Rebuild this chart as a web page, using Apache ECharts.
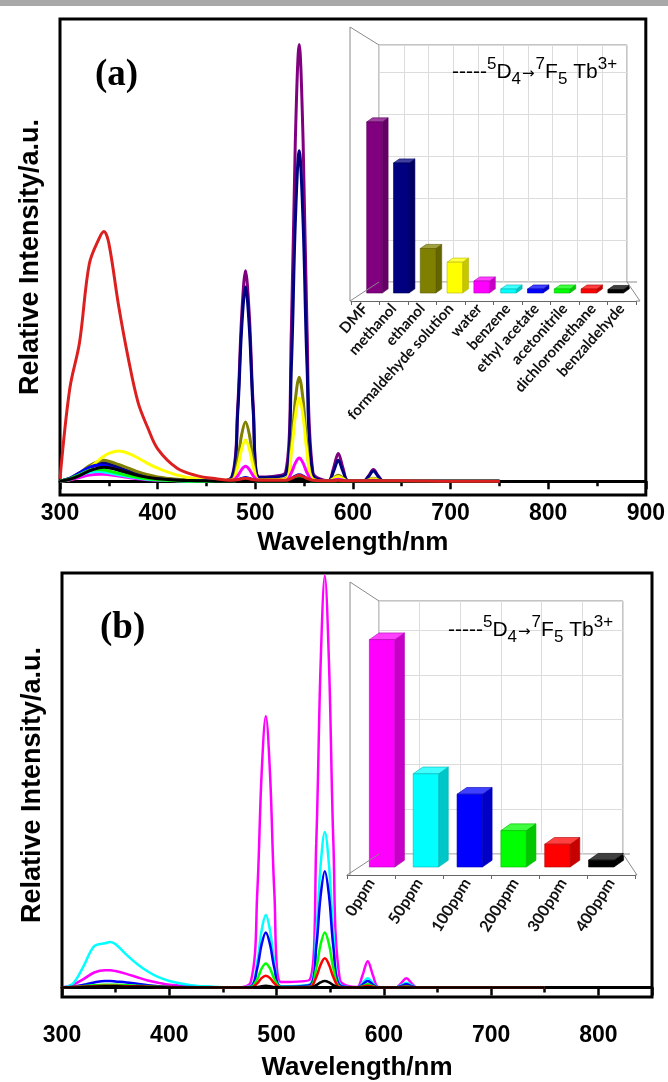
<!DOCTYPE html>
<html>
<head>
<meta charset="utf-8">
<script src="https://cdn.jsdelivr.net/npm/echarts@6/dist/echarts.min.js"></script>
<style>
html, body { margin: 0; padding: 0; background: #fff; }
#main { width: 668px; height: 1082px; }
</style>
</head>
<body>
<div id="main"></div>
<script>
// wavelength grid shared by every spectrum (nm)
var wl = [300,310,320,330,340,345,350,360,370,380,390,400,420,440,460,
          476,482,486,490,494,498,504,
          531,537,541,545,549,553,559,
          575,580,585,590,595,
          611,616,621,626,631,
          650,700,750];

// panel (a): emission spectra in different solvents
var aDMF = [0,0.5,1.5,2.8,3.6,3.6,3.3,2.6,1.9,1.3,0.9,0.6,0.3,0.1,0, 0.9,16,35.5,45.5,35.5,16,0.9, 1.9,33,73.5,94.5,73.5,33,1.9, 0.1,2.7,6,2.7,0.1, 0.05,1.1,2.5,1.1,0.05, 0,0,0];
var aMethanol = [0,0.6,1.7,3,3.8,4,3.8,3,2.2,1.5,1,0.7,0.3,0.1,0, 0.8,14.7,32.8,42,32.8,14.7,0.8, 1.4,25,55.8,71.5,55.8,25,1.4, 0.1,2,4.5,2,0.1, 0,1,2.2,1,0, 0,0,0];
var aEthanol = [0,0.6,1.8,3.3,4.3,4.5,4.3,3.6,2.8,2,1.4,0.9,0.4,0.1,0, 0.3,4.5,10,12.8,10,4.5,0.3, 0.5,7.9,17.5,22.5,17.5,7.9,0.5, 0,0.6,1.3,0.6,0, 0,0.3,0.6,0.3,0, 0,0,0];
var aFormaldehyde = [0,0.3,1.2,2.8,4.6,5.4,6,6.5,6,5,3.8,2.8,1.3,0.5,0.2, 0.2,3.1,6.9,8.9,6.9,3.1,0.2, 0.4,6.3,14,18,14,6.3,0.4, 0,0.5,1,0.5,0, 0,0.2,0.5,0.2,0, 0,0,0];
var aWater = [0,0.3,0.8,1.3,1.5,1.5,1.4,1.1,0.8,0.5,0.3,0.2,0.1,0,0, 0.1,1.1,2.5,3.2,2.5,1.1,0.1, 0.1,1.8,3.9,5,3.9,1.8,0.1, 0,0.2,0.4,0.2,0, 0,0.1,0.2,0.1,0, 0,0,0];
var aBenzene = [0,0.4,1.2,1.9,2.1,2,1.8,1.4,1,0.7,0.4,0.3,0.1,0,0, 0,0.2,0.5,0.6,0.5,0.2,0, 0,0.35,0.8,1,0.8,0.35,0, 0,0.1,0.2,0.1,0, 0,0,0.1,0,0, 0,0,0];
var aEthylAcetate = [0,0.6,1.8,3,3.5,3.4,3.1,2.4,1.7,1.1,0.7,0.5,0.2,0.1,0, 0,0.3,0.6,0.8,0.6,0.3,0, 0,0.5,1.1,1.4,1.1,0.5,0, 0,0.1,0.2,0.1,0, 0,0,0.1,0,0, 0,0,0];
var aAcetonitrile = [0,0.5,1.4,2.3,2.5,2.4,2.2,1.7,1.2,0.8,0.5,0.3,0.1,0,0, 0,0.2,0.4,0.5,0.4,0.2,0, 0,0.3,0.7,0.9,0.7,0.3,0, 0,0,0.1,0,0, 0,0,0,0,0, 0,0,0];
var aDichloromethane = [0.5,20,30,47,52.5,54,51.5,38,26.5,17,11.5,7,2.8,1.2,0.5, 0.2,0.3,0.5,0.6,0.5,0.3,0.2, 0.2,0.6,1,1.3,1,0.6,0.2, 0.1,0.1,0.2,0.1,0.1, 0.1,0.1,0.1,0.1,0.1, 0.1,0,0];
var aBenzaldehyde = [0,0.4,1.2,2.2,2.9,3,2.9,2.4,1.8,1.2,0.8,0.5,0.2,0.1,0, 0,0.1,0.2,0.3,0.2,0.1,0, 0,0.2,0.4,0.5,0.4,0.2,0, 0,0,0.1,0,0, 0,0,0,0,0, 0,0,0];

// panel (b): spectra with increasing amounts of analyte
var b0ppm = [0,0.6,1.8,3.2,3.7,3.7,3.5,2.9,2.2,1.5,1,0.6,0.3,0.1,0, 1.2,20,45,57.6,45,20,1.2, 1.7,30.6,68,87.4,68,30.6,1.7, 0.1,2.5,5.6,2.5,0.1, 0,0.9,2,0.9,0, 0,0,0];
var b50ppm = [0,0.8,4.5,8.8,9.4,9.7,9.2,7,5,3.4,2.2,1.4,0.5,0.2,0, 0.3,5.4,12,15.4,12,5.4,0.3, 0.7,11.5,25.7,33,25.7,11.5,0.7, 0,0.9,2,0.9,0, 0,0.45,1,0.45,0, 0,0,0];
var b100ppm = [0,0.2,0.6,1.1,1.4,1.4,1.3,1.1,0.8,0.5,0.3,0.2,0.1,0,0, 0.2,4.1,9.1,11.7,9.1,4.1,0.2, 0.5,8.6,19.3,24.7,19.3,8.6,0.5, 0,0.6,1.4,0.6,0, 0,0.3,0.7,0.3,0, 0,0,0];
var b200ppm = [0,0.1,0.3,0.5,0.6,0.6,0.6,0.5,0.4,0.3,0.2,0.1,0,0,0, 0.1,1.8,4,5.1,4,1.8,0.1, 0.2,4.1,9.1,11.7,9.1,4.1,0.2, 0,0.3,0.7,0.3,0, 0,0.1,0.3,0.1,0, 0,0,0];
var b300ppm = [0,0.1,0.2,0.3,0.4,0.4,0.4,0.3,0.3,0.2,0.1,0.1,0,0,0, 0,0.9,2,2.5,2,0.9,0, 0.1,2.2,4.8,6.2,4.8,2.2,0.1, 0,0.2,0.4,0.2,0, 0,0.1,0.2,0.1,0, 0,0,0];
var b400ppm = [0,0,0.1,0.2,0.3,0.3,0.3,0.2,0.2,0.1,0.1,0,0,0,0, 0,0.1,0.3,0.4,0.3,0.1,0, 0,0.5,1.1,1.4,1.1,0.5,0, 0,0,0.1,0,0, 0,0,0,0,0, 0,0,0];

// inset bars (5D4 -> 7F5 intensity)
var aBarNames = ['DMF','methanol','ethanol','formaldehyde solution','water','benzene','ethyl acetate','acetonitrile','dichloromethane','benzaldehyde'];
var aBarValues = [100, 76, 26, 18, 7, 2.3, 2.3, 2.3, 2.3, 2];
var bBarNames = ['0ppm','50ppm','100ppm','200ppm','300ppm','400ppm'];
var bBarValues = [100, 41, 32, 16, 10, 3];

var aColors = ['#800080','#000080','#808000','#ffff00','#ff00ff','#00ffff','#0000ff','#00ff00','#ff0000','#000000'];
var bColors = ['#ff00ff','#00ffff','#0000ff','#00ff00','#ff0000','#000000'];
var aLineColors = ['#800080','#000080','#808000','#ffff00','#ff00ff','#00ffff','#0000ff','#00ff00','#dc2020','#000000'];

var FONT = 'Liberation Sans, Arial, sans-serif';

function shade(hex, k) {
  var n = parseInt(hex.slice(1), 16);
  var r = (n >> 16) & 255, g = (n >> 8) & 255, b = n & 255;
  if (k < 1) { r *= k; g *= k; b *= k; }
  else { r += (255 - r) * (k - 1); g += (255 - g) * (k - 1); b += (255 - b) * (k - 1); }
  return 'rgb(' + Math.round(r) + ',' + Math.round(g) + ',' + Math.round(b) + ')';
}

// 3d looking bar: front face, right side face and top face
function bar3d(colors) {
  return function (params, api) {
    var idx = api.value(0);
    var p = api.coord([idx, api.value(1)]);
    var p0 = api.coord([idx, 0]);
    var band = api.size([1, 0])[0];
    var w = band * 0.58, dx = band * 0.22, dy = dx * 0.7;
    var x0 = p[0] - (w + dx) / 2, x1 = x0 + w, x2 = x1 + dx;
    var yt = p[1], yb = p0[1];
    var c = colors[params.dataIndex];
    var edge = shade(c, 0.7);
    return {
      type: 'group',
      children: [
        { type: 'polygon', shape: { points: [[x1, yt], [x2, yt - dy], [x2, yb - dy], [x1, yb]] },
          style: { fill: shade(c, 0.78), stroke: edge, lineWidth: 0.6 } },
        { type: 'polygon', shape: { points: [[x0, yt], [x0 + dx, yt - dy], [x2, yt - dy], [x1, yt]] },
          style: { fill: shade(c, 1.25), stroke: edge, lineWidth: 0.6 } },
        { type: 'rect', shape: { x: x0, y: yt, width: w, height: yb - yt },
          style: { fill: c, stroke: edge, lineWidth: 0.6 } }
      ]
    };
  };
}

function spectrum(arr, color, gi, width) {
  return {
    type: 'line', xAxisIndex: gi, yAxisIndex: gi, showSymbol: false, smooth: 0.35,
    data: wl.map(function (w, i) { return [w, arr[i]]; }),
    lineStyle: { color: color, width: width }, itemStyle: { color: color }, silent: true
  };
}

function mainX(gi, max, labelMargin, nameGap) {
  return {
    gridIndex: gi, type: 'value', min: 300, max: max, interval: 100,
    axisLine: { lineStyle: { color: '#000', width: 3 } },
    axisTick: { length: 8, lineStyle: { color: '#000', width: 2.5 } },
    minorTick: { show: true, splitNumber: 2, length: 5, lineStyle: { color: '#000', width: 2.5 } },
    splitLine: { show: false },
    axisLabel: { fontFamily: FONT, fontWeight: 'bold', fontSize: 23, color: '#000', margin: labelMargin, showMaxLabel: max === 900 },
    name: 'Wavelength/nm', nameLocation: 'middle', nameGap: nameGap,
    nameTextStyle: { fontFamily: FONT, fontWeight: 'bold', fontSize: 26, color: '#000' }
  };
}
function mainY(gi, min, max) {
  return {
    gridIndex: gi, type: 'value', min: min, max: max,
    axisLine: { show: false }, axisTick: { show: false }, axisLabel: { show: false }, splitLine: { show: false },
    name: 'Relative Intensity/a.u.', nameLocation: 'middle', nameGap: 16,
    nameTextStyle: { fontFamily: FONT, fontWeight: 'bold', fontSize: 27, color: '#000' }
  };
}
function wallX(gi, n) {
  return { gridIndex: gi, type: 'value', min: 0, max: n, interval: 1,
    axisLine: { show: false }, axisTick: { show: false }, axisLabel: { show: false },
    splitLine: { show: true, lineStyle: { color: '#dcdcdc', width: 1 } } };
}
function wallY(gi) {
  return { gridIndex: gi, type: 'value', min: 0, max: 5.65, interval: 1,
    axisLine: { show: false }, axisTick: { show: false }, axisLabel: { show: false },
    splitLine: { show: true, lineStyle: { color: '#dcdcdc', width: 1 } } };
}
function hiddenCat(gi, names) {
  return { gridIndex: gi, type: 'category', data: names, show: false };
}
function hiddenVal(gi, max) {
  return { gridIndex: gi, type: 'value', min: 0, max: max, show: false };
}
function floorX(gi, names, rotate, size) {
  return { gridIndex: gi, type: 'category', data: names,
    axisLine: { lineStyle: { color: '#666', width: 1 } },
    axisTick: { show: true, length: 4, lineStyle: { color: '#666' } },
    axisLabel: { interval: 0, rotate: rotate, margin: 5, fontFamily: 'Lato', fontWeight: 'bold', fontSize: size, color: '#111' } };
}

function titleText(x, y) {
  return {
    type: 'text', x: x, y: y, z: 20,
    style: {
      text: '{d|-----}{s|5}{m|D}{u|4}{a|\u2192}{s|7}{m|F}{u|5}{m| Tb}{s|3+}',
      verticalAlign: 'middle', align: 'left',
      rich: {
        d: { fontFamily: FONT, fontSize: 21, lineHeight: 32, verticalAlign: 'middle', fill: '#000' },
        m: { fontFamily: FONT, fontSize: 21, lineHeight: 32, verticalAlign: 'middle', fill: '#000' },
        a: { fontFamily: 'DejaVu Sans', fontSize: 15, lineHeight: 32, verticalAlign: 'middle', fill: '#000', padding: [5, 1, 0, 1] },
        s: { fontFamily: FONT, fontSize: 17, lineHeight: 32, verticalAlign: 'top', fill: '#000' },
        u: { fontFamily: FONT, fontSize: 17, lineHeight: 32, verticalAlign: 'bottom', fill: '#000' }
      }
    }
  };
}
function seg(points) {
  return { type: 'polyline', z: 5, silent: true, shape: { points: points }, style: { stroke: '#8a8a8a', lineWidth: 1, fill: null } };
}

var myChart = echarts.init(document.getElementById('main'), null, { renderer: 'canvas' });

var option = {
  backgroundColor: '#fff',
  animation: false,
  grid: [
    { left: 60, top: 19, width: 590, height: 476, show: true, borderColor: '#000', borderWidth: 3 },     // 0 main a
    { left: 379, top: 45, width: 248, height: 237, show: true, borderColor: '#8a8a8a', borderWidth: 1 }, // 1 wall a
    { left: 364, top: 45, width: 268, height: 248 },                                                     // 2 bars a
    { left: 351, top: 291, width: 285, height: 10 },                                                     // 3 floor a
    { left: 62, top: 573, width: 590, height: 435, show: true, borderColor: '#000', borderWidth: 3 },    // 4 main b
    { left: 379, top: 601, width: 244, height: 253, show: true, borderColor: '#8a8a8a', borderWidth: 1 },// 5 wall b
    { left: 365, top: 601, width: 263, height: 266 },                                                    // 6 bars b
    { left: 347, top: 865, width: 288, height: 10 }                                                      // 7 floor b
  ],
  xAxis: [
    mainX(0, 900, 7, 35),
    wallX(1, 10),
    hiddenCat(2, aBarNames),
    floorX(3, aBarNames, 48, 15),
    mainX(4, 850, 27, 58),
    wallX(5, 6),
    hiddenCat(6, bBarNames),
    floorX(7, bBarNames, 58, 16)
  ],
  yAxis: [
    mainY(0, -3, 100),
    wallY(1),
    hiddenVal(2, 145),
    hiddenVal(3, 1),
    mainY(4, -2, 88),
    wallY(5),
    hiddenVal(6, 117),
    hiddenVal(7, 1)
  ],
  series: [
    spectrum(aDMF, aLineColors[0], 0, 3),
    spectrum(aMethanol, aLineColors[1], 0, 3),
    spectrum(aEthanol, aLineColors[2], 0, 3),
    spectrum(aFormaldehyde, aLineColors[3], 0, 3),
    spectrum(aWater, aLineColors[4], 0, 3),
    spectrum(aBenzene, aLineColors[5], 0, 3),
    spectrum(aEthylAcetate, aLineColors[6], 0, 3),
    spectrum(aAcetonitrile, aLineColors[7], 0, 3),
    spectrum(aBenzaldehyde, aLineColors[9], 0, 3),
    spectrum(aDichloromethane, aLineColors[8], 0, 3),
    {
      type: 'custom', xAxisIndex: 2, yAxisIndex: 2, renderItem: bar3d(aColors), silent: true, z: 4,
      encode: { x: 0, y: 1 },
      data: aBarValues.map(function (v, i) { return [i, v]; })
    },
    spectrum(b0ppm, bColors[0], 4, 2.5),
    spectrum(b50ppm, bColors[1], 4, 2.5),
    spectrum(b100ppm, bColors[2], 4, 2.5),
    spectrum(b200ppm, bColors[3], 4, 2.5),
    spectrum(b300ppm, bColors[4], 4, 2.5),
    spectrum(b400ppm, bColors[5], 4, 2.5),
    {
      type: 'custom', xAxisIndex: 6, yAxisIndex: 6, renderItem: bar3d(bColors), silent: true, z: 4,
      encode: { x: 0, y: 1 },
      data: bBarValues.map(function (v, i) { return [i, v]; })
    }
  ],
  graphic: [
    { type: 'rect', shape: { x: 0, y: 0, width: 668, height: 6 }, style: { fill: '#a8a8a8' }, silent: true },
    { type: 'text', x: 95, y: 75, z: 20, style: { text: '(a)', font: 'bold 37px "Liberation Serif", serif', fill: '#000', verticalAlign: 'middle' } },
    { type: 'text', x: 100, y: 628, z: 20, style: { text: '(b)', font: 'bold 37px "Liberation Serif", serif', fill: '#000', verticalAlign: 'middle' } },
    titleText(452, 72),
    titleText(448, 630),
    // side wall and floor of the inset boxes
    seg([[379, 45], [350, 27], [350, 301]]),
    seg([[379, 282], [350, 301]]),
    seg([[627, 282], [637, 282]]),
    seg([[627, 282], [640, 301], [636, 301]]),
    seg([[379, 601], [350, 582], [350, 875]]),
    seg([[379, 854], [347, 875]]),
    seg([[623, 854], [630, 854]]),
    seg([[623, 854], [637, 875], [635, 875]])
  ]
};
myChart.setOption(option);
window.onresize = myChart.resize;
</script>
</body>
</html>
